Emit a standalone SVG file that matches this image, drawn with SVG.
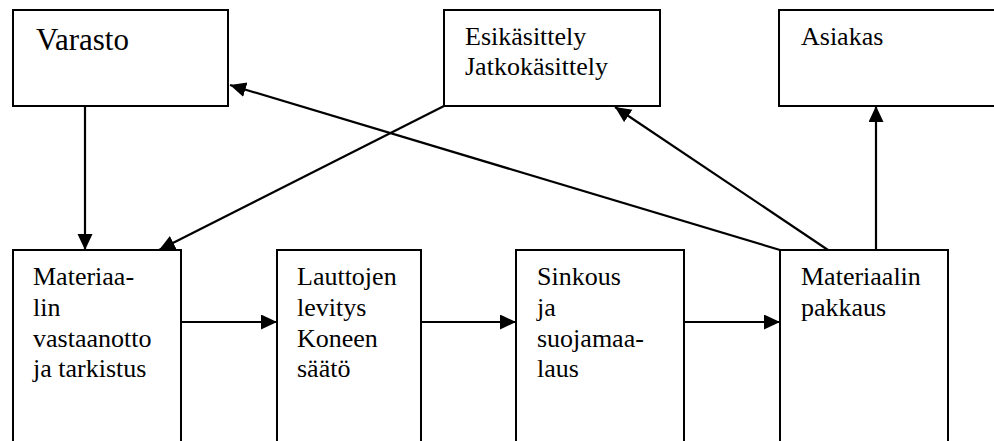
<svg xmlns="http://www.w3.org/2000/svg" width="994" height="441" viewBox="0 0 994 441">
  <style>
    .box { fill: #ffffff; stroke: #000000; stroke-width: 2; }
    .lbl { font-family: "Times New Roman", "Liberation Serif", serif; font-size: 26px; fill: #000000; }
    .big { font-size: 31px; }
    .conn { stroke: #000000; stroke-width: 2.2; fill: none; }
  </style>
  <defs>
    <marker id="arrow" markerUnits="userSpaceOnUse" markerWidth="17" markerHeight="16" refX="16" refY="7.5" orient="auto">
      <path d="M0,0 L16,7.5 L0,15 z" fill="#000000"/>
    </marker>
  </defs>

  <rect width="994" height="441" fill="#ffffff"/>

  <!-- top row -->
  <g id="varasto">
    <rect class="box" x="13" y="10" width="215" height="96"/>
    <text class="lbl big" x="36" y="50">Varasto</text>
  </g>
  <g id="kasittely">
    <rect class="box" x="444" y="10" width="216" height="96"/>
    <text class="lbl" x="465" y="45">Esikäsittely</text>
    <text class="lbl" x="465" y="75">Jatkokäsittely</text>
  </g>
  <g id="asiakas">
    <rect class="box" x="779" y="10" width="240" height="96"/>
    <text class="lbl" x="801" y="45">Asiakas</text>
  </g>

  <!-- bottom row -->
  <g id="vastaanotto">
    <rect class="box" x="13" y="250" width="168" height="220"/>
    <text class="lbl" x="33" y="285">Materiaa-</text>
    <text class="lbl" x="33" y="316">lin</text>
    <text class="lbl" x="33" y="347">vastaanotto</text>
    <text class="lbl" x="33" y="377">ja tarkistus</text>
  </g>
  <g id="levitys">
    <rect class="box" x="277" y="250" width="144" height="220"/>
    <text class="lbl" x="297" y="285">Lauttojen</text>
    <text class="lbl" x="297" y="316">levitys</text>
    <text class="lbl" x="297" y="347">Koneen</text>
    <text class="lbl" x="297" y="377">säätö</text>
  </g>
  <g id="sinkous">
    <rect class="box" x="516" y="250" width="168" height="220"/>
    <text class="lbl" x="537" y="285">Sinkous</text>
    <text class="lbl" x="537" y="316">ja</text>
    <text class="lbl" x="537" y="347">suojamaa-</text>
    <text class="lbl" x="537" y="377">laus</text>
  </g>
  <g id="pakkaus">
    <rect class="box" x="780" y="250" width="168" height="220"/>
    <text class="lbl" x="801" y="285">Materiaalin</text>
    <text class="lbl" x="801" y="316">pakkaus</text>
  </g>

  <!-- connectors -->
  <g id="connectors">
    <line class="conn" x1="85" y1="106" x2="85" y2="250" marker-end="url(#arrow)"/>
    <line class="conn" x1="444" y1="106" x2="159" y2="250" marker-end="url(#arrow)"/>
    <line class="conn" x1="780" y1="250" x2="230" y2="85" marker-end="url(#arrow)"/>
    <line class="conn" x1="828" y1="250" x2="615" y2="107" marker-end="url(#arrow)"/>
    <line class="conn" x1="876" y1="250" x2="876" y2="106" marker-end="url(#arrow)"/>
    <line class="conn" x1="181" y1="322" x2="277" y2="322" marker-end="url(#arrow)"/>
    <line class="conn" x1="421" y1="322" x2="516" y2="322" marker-end="url(#arrow)"/>
    <line class="conn" x1="684" y1="322" x2="780" y2="322" marker-end="url(#arrow)"/>
  </g>
</svg>
